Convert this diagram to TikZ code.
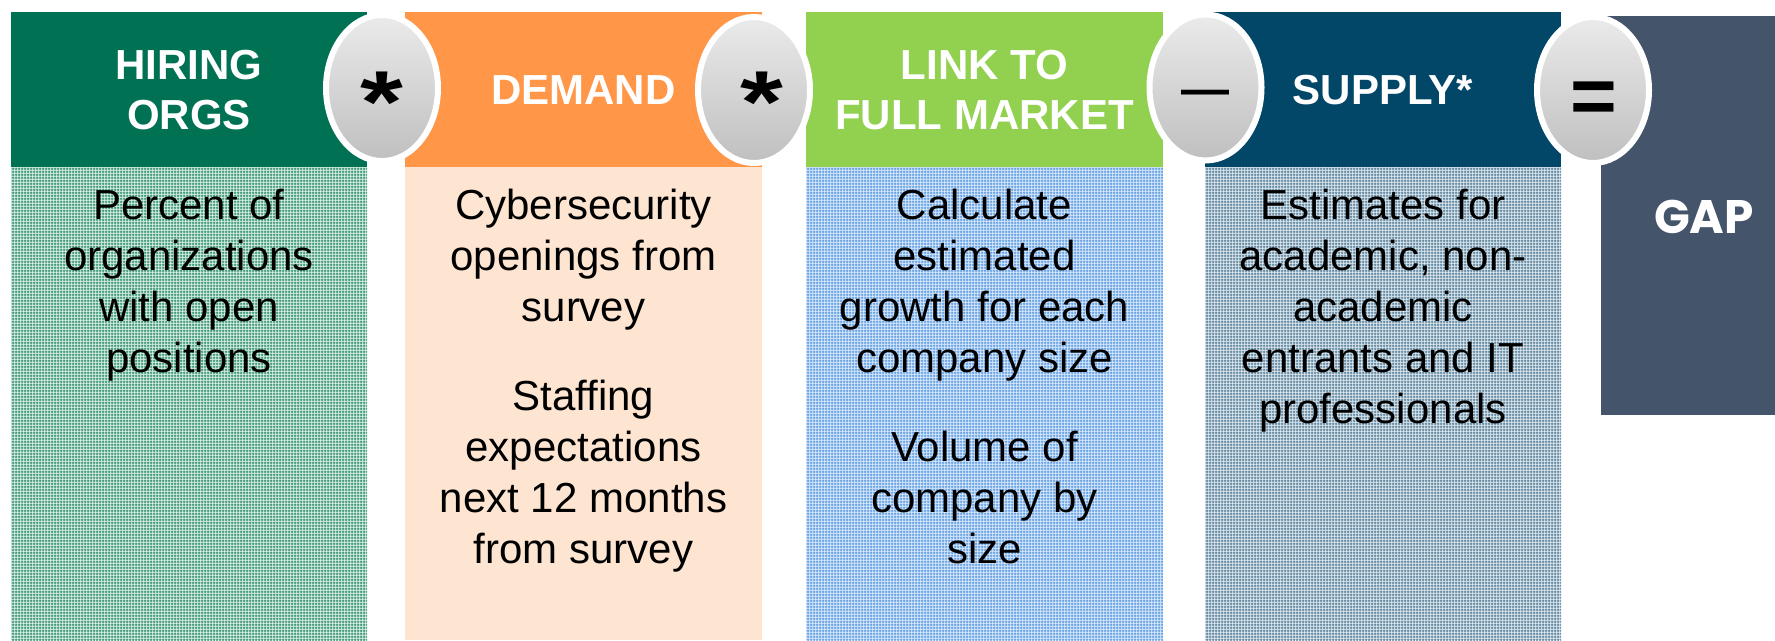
\documentclass[tikz,border=0pt]{standalone}
\usepackage{fontspec}
\setmainfont{Liberation Sans}
\newfontfamily\gapfont{Poppins}
\usetikzlibrary{shapes.geometric,patterns.meta}

\definecolor{orgsgreen}{RGB}{0,114,83}
\definecolor{orgsbody}{RGB}{214,236,227}
\definecolor{orgsline}{RGB}{58,150,114}
\definecolor{demandorange}{RGB}{255,150,72}
\definecolor{demandbody}{RGB}{253,229,209}
\definecolor{marketlime}{RGB}{146,208,80}
\definecolor{marketbody}{RGB}{214,230,250}
\definecolor{marketline}{RGB}{100,160,226}
\definecolor{supplynavy}{RGB}{2,70,104}
\definecolor{supplybody}{RGB}{218,228,235}
\definecolor{supplyline}{RGB}{94,134,160}
\definecolor{gapslate}{RGB}{68,84,106}

% fine woven grid for the lower panels
\tikzdeclarepattern{
  name=mesh, type=uncolored,
  bounding box={(0pt,0pt) and (3pt,3pt)},
  tile size={(3pt,3pt)},
  code={
    \pgfsetlinewidth{1.1pt}
    \pgfpathmoveto{\pgfqpoint{0pt}{1.5pt}}\pgfpathlineto{\pgfqpoint{3pt}{1.5pt}}
    \pgfpathmoveto{\pgfqpoint{1.5pt}{0pt}}\pgfpathlineto{\pgfqpoint{1.5pt}{3pt}}
    \pgfusepath{stroke}
  }
}

\tikzstyle{head} = [font={\fontsize{42}{50}\selectfont\bfseries}, text=white, align=center, inner sep=0pt]
\tikzstyle{body} = [font={\fontsize{42}{51}\selectfont}, align=center, anchor=north, inner sep=0pt]
\tikzstyle{op} = [ellipse, draw=white, line width=6pt, top color=black!8, bottom color=black!25, minimum width=112pt, minimum height=146pt, inner sep=0pt]
\tikzstyle{sign} = [anchor=base, inner sep=0pt]
\tikzstyle{orgsmesh} = [fill=orgsbody, postaction={pattern=mesh, pattern color=orgsline}]
\tikzstyle{marketmesh} = [fill=marketbody, postaction={pattern=mesh, pattern color=marketline}]
\tikzstyle{supplymesh} = [fill=supplybody, postaction={pattern=mesh, pattern color=supplyline}]

\begin{document}
\begin{tikzpicture}[x=1pt,y=-1pt]
    \useasboundingbox (0,0) rectangle (1775,640);
    % columns
    \fill[orgsgreen] (11,12) rectangle (367,167);
    \fill[orgsmesh] (11,167) rectangle (367,640);
    \fill[demandorange] (405,12) rectangle (762,167);
    \fill[demandbody] (405,167) rectangle (762,640);
    \fill[marketlime] (806,12) rectangle (1163,167);
    \fill[marketmesh] (806,167) rectangle (1163,640);
    \fill[supplynavy] (1205,12) rectangle (1561,167);
    \fill[supplymesh] (1205,167) rectangle (1561,640);
    \fill[gapslate] (1601,16) rectangle (1775,415);

    \node[head](hiring) at (189,90){HIRING\\ORGS};
    \node[head](demand) at (583.5,90){DEMAND};
    \node[head](link) at (984.5,90){LINK TO\\FULL MARKET};
    \node[head](supply) at (1383,90){SUPPLY*};

    \node[body](percent) at (189,189){Percent of\\organizations\\with open\\positions};
    \node[body](openings) at (583.5,189){Cybersecurity\\openings from\\survey\\[38pt]Staffing\\expectations\\next 12 months\\from survey};
    \node[body](growth) at (984.5,189){Calculate\\estimated\\growth for each\\company size\\[38pt]Volume of\\company by\\size};
    \node[body](estimates) at (1383,189){Estimates for\\academic, non-\\academic\\entrants and IT\\professionals};
    \node[sign, text=white, font={\gapfont\bfseries\fontsize{47}{47}\selectfont}](gap) at (1704,233){GAP};

    % operators
    \node[op](op1) at (382,88){};
    \node[op](op2) at (754,90){};
    \node[op](op3) at (1205.5,87.5){};
    \node[op](op4) at (1593,90){};
    \node[sign, font={\bfseries\fontsize{88}{88}\selectfont}](times1) at (382,132){\scalebox{1.25}[1]{*}};
    \node[sign, font={\bfseries\fontsize{88}{88}\selectfont}](times2) at (762,132){\scalebox{1.25}[1]{*}};
    \node[sign, font={\bfseries\fontsize{48}{48}\selectfont}](minus) at (1205,105){—};
    \node[sign, font={\bfseries\fontsize{80}{80}\selectfont}](equals) at (1594,123){=};
\end{tikzpicture}
\end{document}
